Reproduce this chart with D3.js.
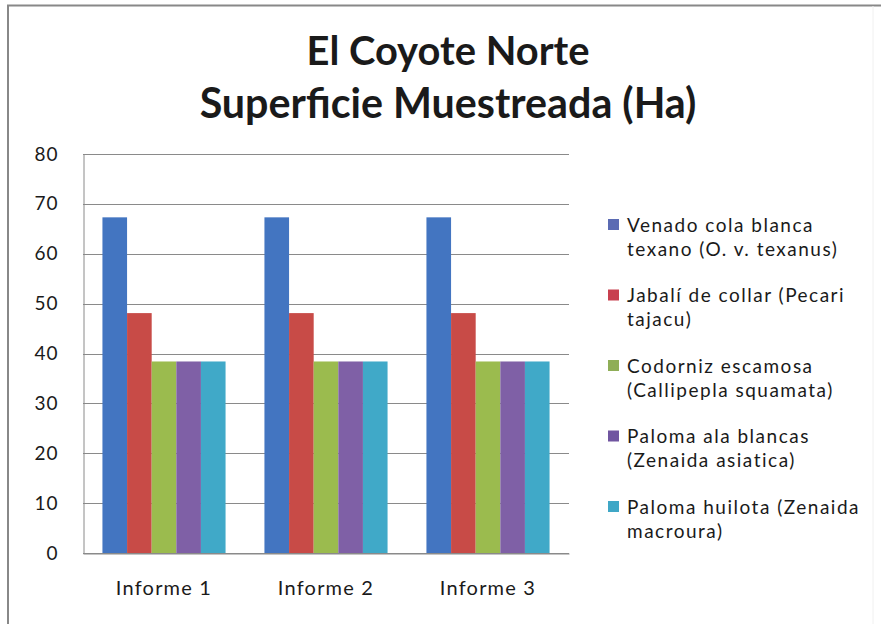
<!DOCTYPE html>
<html><head><meta charset="utf-8">
<script src="https://cdn.jsdelivr.net/npm/d3@7"></script>
<style>body{margin:0;background:#fff}svg{display:block}text{font-family:Lato,"Open Sans",sans-serif;fill:#1a1a1a}</style>
</head><body><svg id="c" width="881" height="624"></svg>
<script>
const titleLines = ["El Coyote Norte", "Superficie Muestreada (Ha)"];
const categories = ["Informe 1", "Informe 2", "Informe 3"];
const seriesNames = [
  ["Venado cola blanca", "texano (O. v. texanus)"],
  ["Jabalí de collar (Pecari", "tajacu)"],
  ["Codorniz escamosa", "(Callipepla squamata)"],
  ["Paloma ala blancas", "(Zenaida asiatica)"],
  ["Paloma huilota (Zenaida", "macroura)"]
];
const venado = [67.3, 67.3, 67.3];
const jabali = [48.1, 48.1, 48.1];
const codorniz = [38.4, 38.4, 38.4];
const palomaAla = [38.4, 38.4, 38.4];
const palomaHuilota = [38.4, 38.4, 38.4];
const yTicks = [0, 10, 20, 30, 40, 50, 60, 70, 80];
const colors = ["#4375c1", "#c84b47", "#9bbb4e", "#7f60a6", "#40a9c8"];
const legendColors = ["#5b6bb3", "#c8404f", "#8fae57", "#7055a0", "#3fa7c6"];

const series = [venado, jabali, codorniz, palomaAla, palomaHuilota];
const svg = d3.select("#c");

// outer frame
svg.append("path").attr("d","M8,624 V5.5 H881").attr("fill","none").attr("stroke","#888").attr("stroke-width",2);
svg.append("line").attr("x1",873).attr("x2",873).attr("y1",6).attr("y2",624).attr("stroke","#f0f0f0");

// title
const tfs = [[31, 283], [31, 497]];
titleLines.forEach((t,i)=>{
  const el = svg.append("text").attr("x",448).attr("y",[65,118][i]).attr("text-anchor","middle")
    .attr("font-weight","bold").attr("font-size",tfs[i][0]).text(t);
  const w = el.node().getComputedTextLength();
  el.attr("font-size", tfs[i][0]*tfs[i][1]/w);
});

const L=83, R=569, T=154, B=553;
const y = d3.scaleLinear().domain([0,80]).range([B,T]);
const x0 = d3.scaleBand().domain(categories).range([L,R]).paddingInner(0.24).paddingOuter(0.12);
const x1 = d3.scaleBand().domain(d3.range(series.length)).range([0,x0.bandwidth()]);

// gridlines
svg.append("g").selectAll("line").data(yTicks).join("line")
  .attr("x1",L).attr("x2",R).attr("y1",d=>Math.round(y(d))+0.5).attr("y2",d=>Math.round(y(d))+0.5)
  .attr("stroke","#8a8a8a").attr("stroke-width",1);

// y axis
const ya = svg.append("g").attr("transform",`translate(${L+0.5},0)`)
  .call(d3.axisLeft(y).tickValues(yTicks).tickSize(0).tickPadding(25));
ya.select(".domain").attr("stroke","#8a8a8a");
ya.selectAll("text").attr("font-size",19).attr("letter-spacing",1).attr("font-family","Lato").attr("fill","#1a1a1a");

// bars
const g = svg.append("g");
categories.forEach((c,ci)=>{
  series.forEach((s,si)=>{
    g.append("rect").attr("x",x0(c)+x1(si)).attr("width",x1.bandwidth())
      .attr("y",y(s[ci])).attr("height",y(0)-y(s[ci])).attr("fill",colors[si]);
  });
});

// x axis
const xa = svg.append("g").attr("transform",`translate(0,${B+0.5})`)
  .call(d3.axisBottom(x0).tickSize(0).tickPadding(27));
xa.select(".domain").attr("stroke","#8a8a8a");
xa.selectAll("text").attr("font-size",20).attr("letter-spacing",1.2).attr("font-family","Lato").attr("fill","#1a1a1a");

// legend
const lg = svg.append("g");
seriesNames.forEach((lines,i)=>{
  const cy = 225 + i*70.5;
  lg.append("rect").attr("x",608).attr("y",cy-6).attr("width",11).attr("height",11).attr("fill",legendColors[i]);
  lines.forEach((ln,j)=>{
    lg.append("text").attr("x",627).attr("y",cy+j*24).attr("dy","0.35em").attr("font-size",19).attr("letter-spacing",1.5).text(ln);
  });
});
</script></body></html>
